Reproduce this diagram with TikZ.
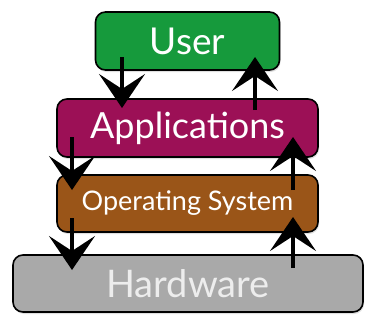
\documentclass[tikz,border=0pt]{standalone}
\usepackage{fontspec}
\setmainfont{Lato}
\usetikzlibrary{arrows.meta,shadows}
\definecolor{usergreen}{HTML}{169A3C}
\definecolor{appmaroon}{HTML}{9C1056}
\definecolor{osbrown}{HTML}{9A5518}
\definecolor{hwgray}{HTML}{A9A9A9}
\tikzset{
  layer/.style={draw=black, line width=1.6pt, rounded corners=10pt, inner sep=0pt,
    text=white, drop shadow={opacity=0.25, shadow xshift=1pt, shadow yshift=-2pt}},
  arr/.style={draw=black, line width=3.2pt, -{Stealth[length=34pt,width=46pt,inset=15pt]}}
}
\begin{document}
\begin{tikzpicture}[x=1pt,y=-1pt]
\useasboundingbox (0,0) rectangle (371,324);
\node[layer, fill=usergreen, minimum width=184pt, minimum height=58pt,
  font=\fontsize{37}{37}\selectfont] (user) at (187.5,41) {User};
\node[layer, fill=appmaroon, minimum width=261pt, minimum height=58pt,
  font=\fontsize{36}{36}\selectfont] (apps) at (187.5,128) {Applications};
\node[layer, fill=osbrown, minimum width=261pt, minimum height=57pt,
  font=\fontsize{27}{27}\selectfont] (os) at (187.5,203.5) {Operating System};
\node[layer, fill=hwgray, minimum width=350pt, minimum height=57pt,
  text=white!93!black, font=\fontsize{38}{38}\selectfont] (hw) at (188,283.5) {Hardware};
\coordinate (u1) at (122,57);  \coordinate (a1) at (122,108);
\coordinate (a2) at (255,110); \coordinate (u2) at (255,57);
\coordinate (a3) at (72,137);  \coordinate (o1) at (72,190);
\coordinate (o2) at (293,190); \coordinate (a4) at (293,137);
\coordinate (o3) at (72,218);  \coordinate (h1) at (72,270);
\coordinate (h2) at (293,268); \coordinate (o4) at (293,217);
\draw[arr] (u1) -- (a1);
\draw[arr] (a2) -- (u2);
\draw[arr] (a3) -- (o1);
\draw[arr] (o2) -- (a4);
\draw[arr] (o3) -- (h1);
\draw[arr] (h2) -- (o4);
\end{tikzpicture}
\end{document}
